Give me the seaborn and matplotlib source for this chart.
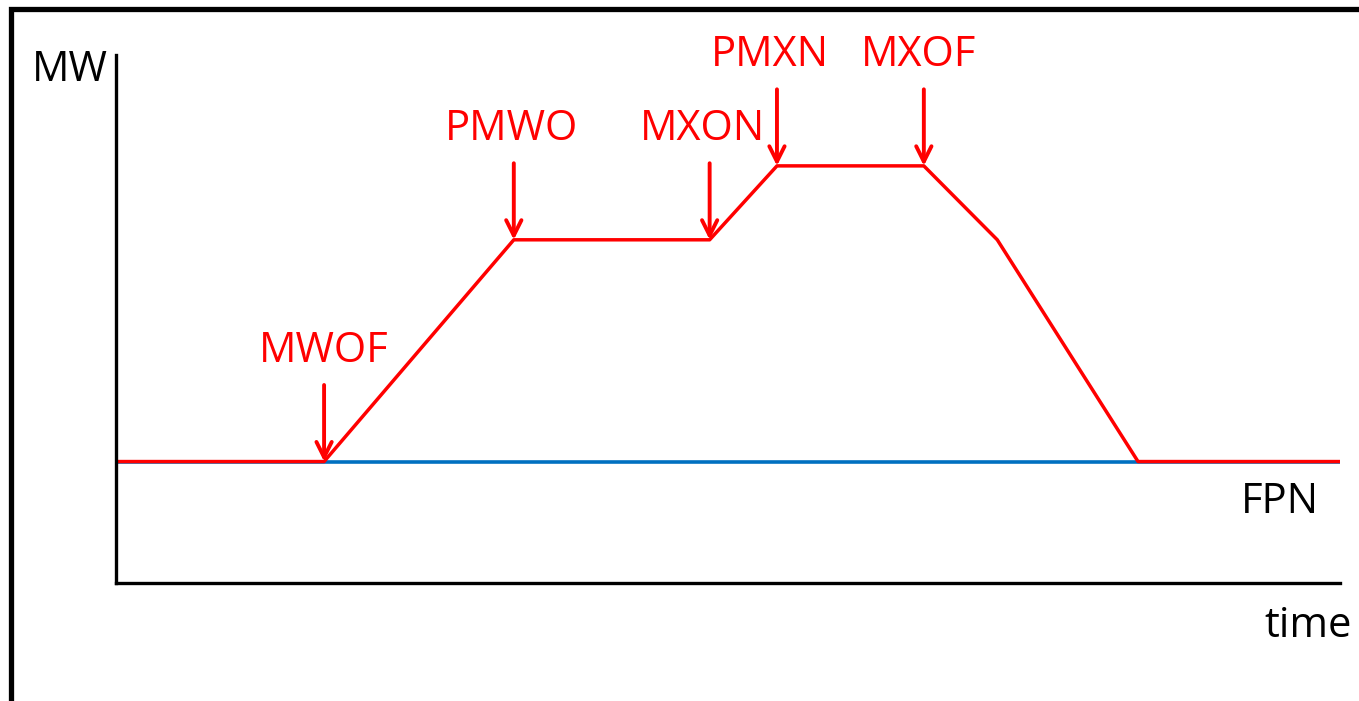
import matplotlib
matplotlib.use("Agg")
import matplotlib.pyplot as plt
from matplotlib.patches import Rectangle
import seaborn as sns
import pandas as pd

# Offer profile (red) vs final physical notification (blue)
time_pts = [0, 17, 32.5, 48.5, 54, 66, 72, 83.5, 100]
mw_pts = [23, 23, 65, 65, 79, 79, 65, 23, 23]
fpn_time = [0, 100]
fpn_mw = [23, 23]

# Arrow markers: label, time, MW level
marker_labels = ["MWOF", "PMWO", "MXON", "PMXN", "MXOF"]
marker_time = [17, 32.5, 48.5, 54, 66]
marker_mw = [23, 65, 65, 79, 79]
label_dx = [0, -0.2, -0.6, -0.6, -0.4]

RED = "#FF0000"
BLUE = "#0070C0"

sns.set_style("white")
plt.rcParams['font.family'] = ['Open Sans', 'DejaVu Sans']
plt.rcParams['text.color'] = 'black'

fig = plt.figure(figsize=(13.59, 7.01), dpi=100)
ax = fig.add_axes([116 / 1359, 1 - 583 / 701, (1340 - 116) / 1359, (583 - 55) / 701])

sns.lineplot(x=fpn_time, y=fpn_mw, ax=ax, color=BLUE, lw=2.6)
df = pd.DataFrame({"time": time_pts, "MW": mw_pts})
sns.lineplot(data=df, x="time", y="MW", ax=ax, color=RED, lw=2.5, sort=False)

for lab, t, m, dx in zip(marker_labels, marker_time, marker_mw, label_dx):
    ax.annotate("", xy=(t, m), xytext=(t, m + 14.5),
                arrowprops=dict(arrowstyle="->,head_length=1.1,head_width=0.55",
                                color=RED, lw=2.8, shrinkA=0, shrinkB=0))
    ax.text(t + dx, m + 17.0, lab, color=RED, fontsize=30, ha="center", va="bottom")

ax.text(95.1, 15.3, "FPN", fontsize=30, ha="center", va="center", color="black")

ax.set_xlim(0, 100)
ax.set_ylim(0, 100)
ax.set_xticks([])
ax.set_yticks([])
ax.set_xlabel("")
ax.set_ylabel("")
for side in ["top", "right"]:
    ax.spines[side].set_visible(False)
for side in ["left", "bottom"]:
    ax.spines[side].set_linewidth(2.4)
    ax.spines[side].set_color("black")

fig.text(108 / 1359, 1 - 70 / 701, "MW", fontsize=30, ha="right", va="center", color="black")
fig.text(1308 / 1359, 1 - 626 / 701, "time", fontsize=30, ha="center", va="center", color="black")

# outer frame (runs off the right and bottom edges)
fig.patches.append(Rectangle((10.5 / 1359, -0.2), 1.5, 1.2 + (1 - 8.5 / 701) - 1.0,
                             transform=fig.transFigure, fill=False,
                             edgecolor="black", lw=3.8))

fig.savefig("out.png", dpi=100)
